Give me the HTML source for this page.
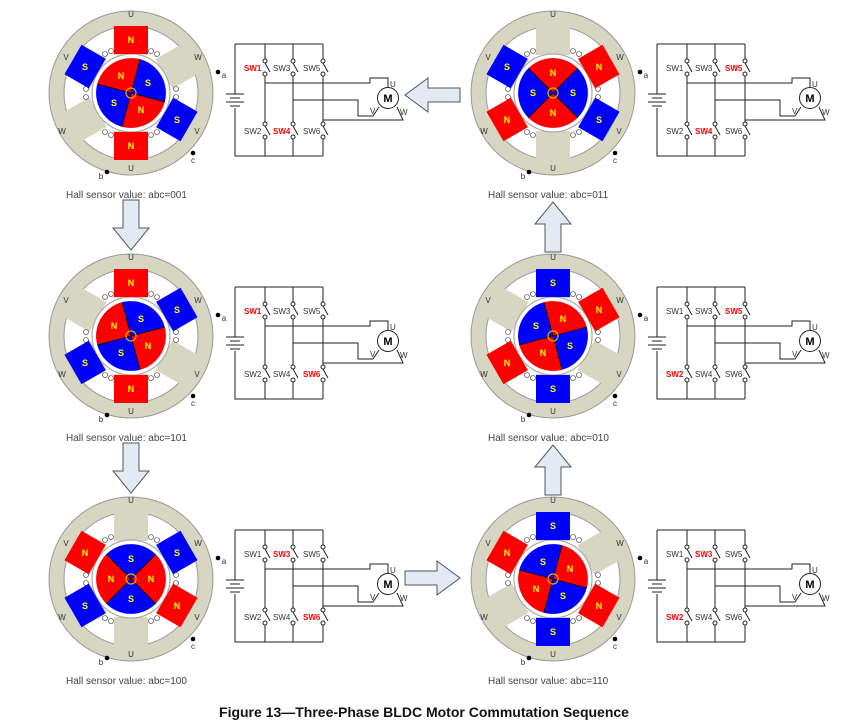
<!DOCTYPE html>
<html><head><meta charset="utf-8"><style>
html,body{margin:0;padding:0;background:#fff;}
svg{display:block;font-family:"Liberation Sans",sans-serif;}
.l{font-size:8px;fill:#333;text-anchor:middle;}
.t{font-size:9px;font-weight:bold;fill:#ffff00;text-anchor:middle;}
.sw{font-size:8px;fill:#333;}
.r{fill:#ff0000;font-weight:bold;}
.h{font-size:10px;fill:#444;}
</style></head><body>
<svg width="848" height="726" viewBox="0 0 848 726">
<defs>
<g id="motor">
<circle r="82" fill="#d6d6c2" stroke="#999" stroke-width="1"/>
<circle r="67" fill="#fff" stroke="#999" stroke-width="1"/>
<g fill="#d6d6c2">
<rect x="-17" y="-69" width="34" height="31"/>
<rect x="-17" y="-69" width="34" height="31" transform="rotate(60)"/>
<rect x="-17" y="-69" width="34" height="31" transform="rotate(120)"/>
<rect x="-17" y="-69" width="34" height="31" transform="rotate(180)"/>
<rect x="-17" y="-69" width="34" height="31" transform="rotate(240)"/>
<rect x="-17" y="-69" width="34" height="31" transform="rotate(300)"/>
</g>
<g fill="#fff" stroke="#333" stroke-width="0.6">
<circle cx="-20" cy="-42" r="2.5"/><circle cx="-26" cy="-39" r="2.5"/><circle cx="20" cy="-42" r="2.5"/><circle cx="26" cy="-39" r="2.5"/>
<circle cx="-20" cy="42" r="2.5"/><circle cx="-26" cy="39" r="2.5"/><circle cx="20" cy="42" r="2.5"/><circle cx="26" cy="39" r="2.5"/>
<circle cx="-45" cy="-4" r="2.5"/><circle cx="-45" cy="4" r="2.5"/><circle cx="45" cy="-4" r="2.5"/><circle cx="45" cy="4" r="2.5"/>
</g>
<circle r="39" fill="#fff" stroke="#aaa" stroke-width="1.2"/>
</g>
<g id="rotor">
<path d="M0,0 L-24.7,-24.7 A35,35 0 0 1 24.7,-24.7 Z M0,0 L24.7,24.7 A35,35 0 0 1 -24.7,24.7 Z" fill="#ff0000"/>
<path d="M0,0 L24.7,-24.7 A35,35 0 0 1 24.7,24.7 Z M0,0 L-24.7,24.7 A35,35 0 0 1 -24.7,-24.7 Z" fill="#0000ff"/>
<path d="M-24.7,-24.7 L24.7,24.7 M24.7,-24.7 L-24.7,24.7" stroke="#000" stroke-width="0.8"/>
</g>
<g id="tooth"><rect x="-17" y="-67" width="34" height="28"/></g>
<g id="circ" fill="none" stroke="#222" stroke-width="1">
<path d="M235,44 V94 M235,108 V156 H323 M235,44 H323"/>
<path d="M226,94 H244 M230,98 H240 M226,102 H244 M230,106 H240"/>
<path d="M265,44 V59 M265,63 L270,72 M265,76 V122 M265,126 L270,135 M265,139 V156"/>
<path d="M293,44 V59 M293,63 L298,72 M293,76 V122 M293,126 L298,135 M293,139 V156"/>
<path d="M323,44 V59 M323,63 L328,72 M323,76 V122 M323,126 L328,135 M323,139 V156"/>
<path d="M265,83 H370 V78 H388 V88"/>
<path d="M293,100 H358 V116 H373 L379,107"/>
<path d="M323,120 H403 L397,107"/>
<circle cx="265" cy="61" r="2"/><circle cx="265" cy="74" r="2"/><circle cx="265" cy="124" r="2"/><circle cx="265" cy="137" r="2"/>
<circle cx="293" cy="61" r="2"/><circle cx="293" cy="74" r="2"/><circle cx="293" cy="124" r="2"/><circle cx="293" cy="137" r="2"/>
<circle cx="323" cy="61" r="2"/><circle cx="323" cy="74" r="2"/><circle cx="323" cy="124" r="2"/><circle cx="323" cy="137" r="2"/>
<circle cx="388" cy="98" r="10.5" fill="#fff"/>
</g>
<g id="center"><circle r="5" fill="none" stroke="#e0b000" stroke-width="1.2"/></g>
</defs>

<g fill="#e4eaf3" stroke="#555" stroke-width="1">
<path d="M123,200 H139 V228 H149 L131,250 L113,228 H123 Z"/>
<path d="M123,443 H139 V471 H149 L131,493 L113,471 H123 Z"/>
<path d="M405,571 H437 V561 L460,578 L437,595 V585 H405 Z"/>
<path d="M545,495 H561 V467 H571 L553,445 L535,467 H545 Z"/>
<path d="M545,252 H561 V224 H571 L553,202 L535,224 H545 Z"/>
<path d="M460,88 H428 V78 L405,95 L428,112 V102 H460 Z"/>
</g>

<g transform="translate(131,93)">
<use href="#motor"/>
<g fill="#ff0000"><use href="#tooth"/><use href="#tooth" transform="rotate(180)"/></g>
<g fill="#0000ff"><use href="#tooth" transform="rotate(300)"/><use href="#tooth" transform="rotate(120)"/></g>
<text class="t" x="0" y="-50">N</text><text class="t" x="0" y="56">N</text><text class="t" x="-46" y="-23">S</text><text class="t" x="46" y="30">S</text>
<use href="#rotor" transform="rotate(-30)"/><use href="#center"/>
<text class="t" x="-10" y="-14">N</text><text class="t" x="10" y="20">N</text><text class="t" x="17" y="-7">S</text><text class="t" x="-17" y="13">S</text>
</g>
<g transform="translate(131,336)">
<use href="#motor"/>
<g fill="#ff0000"><use href="#tooth"/><use href="#tooth" transform="rotate(180)"/></g>
<g fill="#0000ff"><use href="#tooth" transform="rotate(60)"/><use href="#tooth" transform="rotate(240)"/></g>
<text class="t" x="0" y="-50">N</text><text class="t" x="0" y="56">N</text><text class="t" x="46" y="-23">S</text><text class="t" x="-46" y="30">S</text>
<use href="#rotor" transform="rotate(-60)"/><use href="#center"/>
<text class="t" x="-17" y="-7">N</text><text class="t" x="17" y="13">N</text><text class="t" x="10" y="-14">S</text><text class="t" x="-10" y="20">S</text>
</g>
<g transform="translate(131,579)">
<use href="#motor"/>
<g fill="#ff0000"><use href="#tooth" transform="rotate(300)"/><use href="#tooth" transform="rotate(120)"/></g>
<g fill="#0000ff"><use href="#tooth" transform="rotate(60)"/><use href="#tooth" transform="rotate(240)"/></g>
<text class="t" x="-46" y="-23">N</text><text class="t" x="46" y="30">N</text><text class="t" x="46" y="-23">S</text><text class="t" x="-46" y="30">S</text>
<use href="#rotor" transform="rotate(-90)"/><use href="#center"/>
<text class="t" x="-20" y="3">N</text><text class="t" x="20" y="3">N</text><text class="t" x="0" y="-17">S</text><text class="t" x="0" y="23">S</text>
</g>
<g transform="translate(553,579)">
<use href="#motor"/>
<g fill="#0000ff"><use href="#tooth"/><use href="#tooth" transform="rotate(180)"/></g>
<g fill="#ff0000"><use href="#tooth" transform="rotate(300)"/><use href="#tooth" transform="rotate(120)"/></g>
<text class="t" x="0" y="-50">S</text><text class="t" x="0" y="56">S</text><text class="t" x="-46" y="-23">N</text><text class="t" x="46" y="30">N</text>
<use href="#rotor" transform="rotate(60)"/><use href="#center"/>
<text class="t" x="17" y="-7">N</text><text class="t" x="-17" y="13">N</text><text class="t" x="-10" y="-14">S</text><text class="t" x="10" y="20">S</text>
</g>
<g transform="translate(553,336)">
<use href="#motor"/>
<g fill="#0000ff"><use href="#tooth"/><use href="#tooth" transform="rotate(180)"/></g>
<g fill="#ff0000"><use href="#tooth" transform="rotate(60)"/><use href="#tooth" transform="rotate(240)"/></g>
<text class="t" x="0" y="-50">S</text><text class="t" x="0" y="56">S</text><text class="t" x="46" y="-23">N</text><text class="t" x="-46" y="30">N</text>
<use href="#rotor" transform="rotate(30)"/><use href="#center"/>
<text class="t" x="10" y="-14">N</text><text class="t" x="-10" y="20">N</text><text class="t" x="-17" y="-7">S</text><text class="t" x="17" y="13">S</text>
</g>
<g transform="translate(553,93)">
<use href="#motor"/>
<g fill="#ff0000"><use href="#tooth" transform="rotate(60)"/><use href="#tooth" transform="rotate(240)"/></g>
<g fill="#0000ff"><use href="#tooth" transform="rotate(300)"/><use href="#tooth" transform="rotate(120)"/></g>
<text class="t" x="46" y="-23">N</text><text class="t" x="-46" y="30">N</text><text class="t" x="-46" y="-23">S</text><text class="t" x="46" y="30">S</text>
<use href="#rotor"/><use href="#center"/>
<text class="t" x="0" y="-17">N</text><text class="t" x="0" y="23">N</text><text class="t" x="-20" y="3">S</text><text class="t" x="20" y="3">S</text>
</g>

<g>
<g transform="translate(131,93)"><text class="l" y="-76">U</text><text class="l" y="78">U</text><text class="l" x="-65" y="-33">V</text><text class="l" x="67" y="-33">W</text><text class="l" x="-69" y="41">W</text><text class="l" x="66" y="41">V</text><circle cx="87" cy="-21" r="2.3"/><text class="l" x="93" y="-15">a</text><circle cx="62" cy="60" r="2.3"/><text class="l" x="62" y="70">c</text><circle cx="-24" cy="79" r="2.3"/><text class="l" x="-30" y="86">b</text></g>
<g transform="translate(131,336)"><text class="l" y="-76">U</text><text class="l" y="78">U</text><text class="l" x="-65" y="-33">V</text><text class="l" x="67" y="-33">W</text><text class="l" x="-69" y="41">W</text><text class="l" x="66" y="41">V</text><circle cx="87" cy="-21" r="2.3"/><text class="l" x="93" y="-15">a</text><circle cx="62" cy="60" r="2.3"/><text class="l" x="62" y="70">c</text><circle cx="-24" cy="79" r="2.3"/><text class="l" x="-30" y="86">b</text></g>
<g transform="translate(131,579)"><text class="l" y="-76">U</text><text class="l" y="78">U</text><text class="l" x="-65" y="-33">V</text><text class="l" x="67" y="-33">W</text><text class="l" x="-69" y="41">W</text><text class="l" x="66" y="41">V</text><circle cx="87" cy="-21" r="2.3"/><text class="l" x="93" y="-15">a</text><circle cx="62" cy="60" r="2.3"/><text class="l" x="62" y="70">c</text><circle cx="-24" cy="79" r="2.3"/><text class="l" x="-30" y="86">b</text></g>
<g transform="translate(553,93)"><text class="l" y="-76">U</text><text class="l" y="78">U</text><text class="l" x="-65" y="-33">V</text><text class="l" x="67" y="-33">W</text><text class="l" x="-69" y="41">W</text><text class="l" x="66" y="41">V</text><circle cx="87" cy="-21" r="2.3"/><text class="l" x="93" y="-15">a</text><circle cx="62" cy="60" r="2.3"/><text class="l" x="62" y="70">c</text><circle cx="-24" cy="79" r="2.3"/><text class="l" x="-30" y="86">b</text></g>
<g transform="translate(553,336)"><text class="l" y="-76">U</text><text class="l" y="78">U</text><text class="l" x="-65" y="-33">V</text><text class="l" x="67" y="-33">W</text><text class="l" x="-69" y="41">W</text><text class="l" x="66" y="41">V</text><circle cx="87" cy="-21" r="2.3"/><text class="l" x="93" y="-15">a</text><circle cx="62" cy="60" r="2.3"/><text class="l" x="62" y="70">c</text><circle cx="-24" cy="79" r="2.3"/><text class="l" x="-30" y="86">b</text></g>
<g transform="translate(553,579)"><text class="l" y="-76">U</text><text class="l" y="78">U</text><text class="l" x="-65" y="-33">V</text><text class="l" x="67" y="-33">W</text><text class="l" x="-69" y="41">W</text><text class="l" x="66" y="41">V</text><circle cx="87" cy="-21" r="2.3"/><text class="l" x="93" y="-15">a</text><circle cx="62" cy="60" r="2.3"/><text class="l" x="62" y="70">c</text><circle cx="-24" cy="79" r="2.3"/><text class="l" x="-30" y="86">b</text></g>
</g>

<g transform="translate(0,0)"><use href="#circ"/><text class="sw r" x="244" y="71">SW1</text><text class="sw" x="273" y="71">SW3</text><text class="sw" x="303" y="71">SW5</text><text class="sw" x="244" y="134">SW2</text><text class="sw r" x="273" y="134">SW4</text><text class="sw" x="303" y="134">SW6</text><text x="388" y="102" font-size="11" font-weight="bold" text-anchor="middle">M</text><text class="sw" x="390" y="87">U</text><text class="sw" x="370" y="114">V</text><text class="sw" x="400" y="115">W</text></g>
<g transform="translate(0,243)"><use href="#circ"/><text class="sw r" x="244" y="71">SW1</text><text class="sw" x="273" y="71">SW3</text><text class="sw" x="303" y="71">SW5</text><text class="sw" x="244" y="134">SW2</text><text class="sw" x="273" y="134">SW4</text><text class="sw r" x="303" y="134">SW6</text><text x="388" y="102" font-size="11" font-weight="bold" text-anchor="middle">M</text><text class="sw" x="390" y="87">U</text><text class="sw" x="370" y="114">V</text><text class="sw" x="400" y="115">W</text></g>
<g transform="translate(0,486)"><use href="#circ"/><text class="sw" x="244" y="71">SW1</text><text class="sw r" x="273" y="71">SW3</text><text class="sw" x="303" y="71">SW5</text><text class="sw" x="244" y="134">SW2</text><text class="sw" x="273" y="134">SW4</text><text class="sw r" x="303" y="134">SW6</text><text x="388" y="102" font-size="11" font-weight="bold" text-anchor="middle">M</text><text class="sw" x="390" y="87">U</text><text class="sw" x="370" y="114">V</text><text class="sw" x="400" y="115">W</text></g>
<g transform="translate(422,486)"><use href="#circ"/><text class="sw" x="244" y="71">SW1</text><text class="sw r" x="273" y="71">SW3</text><text class="sw" x="303" y="71">SW5</text><text class="sw r" x="244" y="134">SW2</text><text class="sw" x="273" y="134">SW4</text><text class="sw" x="303" y="134">SW6</text><text x="388" y="102" font-size="11" font-weight="bold" text-anchor="middle">M</text><text class="sw" x="390" y="87">U</text><text class="sw" x="370" y="114">V</text><text class="sw" x="400" y="115">W</text></g>
<g transform="translate(422,243)"><use href="#circ"/><text class="sw" x="244" y="71">SW1</text><text class="sw" x="273" y="71">SW3</text><text class="sw r" x="303" y="71">SW5</text><text class="sw r" x="244" y="134">SW2</text><text class="sw" x="273" y="134">SW4</text><text class="sw" x="303" y="134">SW6</text><text x="388" y="102" font-size="11" font-weight="bold" text-anchor="middle">M</text><text class="sw" x="390" y="87">U</text><text class="sw" x="370" y="114">V</text><text class="sw" x="400" y="115">W</text></g>
<g transform="translate(422,0)"><use href="#circ"/><text class="sw" x="244" y="71">SW1</text><text class="sw" x="273" y="71">SW3</text><text class="sw r" x="303" y="71">SW5</text><text class="sw" x="244" y="134">SW2</text><text class="sw r" x="273" y="134">SW4</text><text class="sw" x="303" y="134">SW6</text><text x="388" y="102" font-size="11" font-weight="bold" text-anchor="middle">M</text><text class="sw" x="390" y="87">U</text><text class="sw" x="370" y="114">V</text><text class="sw" x="400" y="115">W</text></g>

<text class="h" x="66" y="198">Hall sensor value: abc=001</text>
<text class="h" x="66" y="441">Hall sensor value: abc=101</text>
<text class="h" x="66" y="684">Hall sensor value: abc=100</text>
<text class="h" x="488" y="198">Hall sensor value: abc=011</text>
<text class="h" x="488" y="441">Hall sensor value: abc=010</text>
<text class="h" x="488" y="684">Hall sensor value: abc=110</text>
<text x="424" y="717" font-size="14" font-weight="bold" text-anchor="middle" fill="#111">Figure 13—Three-Phase BLDC Motor Commutation Sequence</text>
</svg>
</body></html>
